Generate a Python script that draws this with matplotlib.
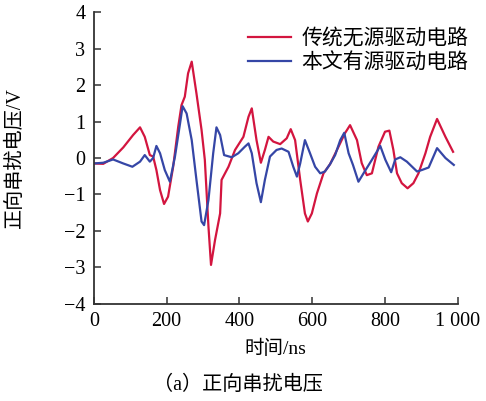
import matplotlib
matplotlib.use("Agg")
import matplotlib.pyplot as plt

plt.rcParams['font.family'] = ['Liberation Serif', 'Noto Sans CJK SC']
plt.rcParams['axes.unicode_minus'] = True

# 传统无源驱动电路 (red)
t_red = [0, 26, 53, 81, 108, 127, 140, 154, 163, 172, 182, 193, 204, 218, 232, 241, 250,
         259, 269, 282, 296, 305, 315, 322, 333, 347, 351, 370, 388, 411, 425, 434, 447,
         459, 470, 480, 493, 512, 530, 541, 553, 567, 580, 588, 599, 613, 631, 649, 668,
         690, 704, 723, 736, 750, 764, 782, 800, 812, 823, 833, 846, 862, 878, 892, 911,
         924, 943, 966, 987]
v_red = [-0.15, -0.16, 0.0, 0.29, 0.63, 0.84, 0.58, 0.08, 0.04, -0.33, -0.88, -1.26, -1.06,
         -0.24, 0.86, 1.45, 1.68, 2.32, 2.64, 1.77, 0.77, -0.05, -1.88, -2.93, -2.25, -1.52,
         -0.6, -0.24, 0.22, 0.58, 1.13, 1.36, 0.49, -0.13, 0.22, 0.58, 0.45, 0.38, 0.54,
         0.79, 0.49, -0.6, -1.52, -1.74, -1.52, -0.97, -0.42, -0.17, 0.22, 0.68, 0.9, 0.49,
         -0.14, -0.47, -0.42, 0.31, 0.72, 0.75, 0.22, -0.42, -0.69, -0.83, -0.69, -0.42,
         0.13, 0.58, 1.07, 0.58, 0.17]

# 本文有源驱动电路 (blue)
t_blue = [0, 26, 53, 81, 106, 127, 140, 154, 163, 172, 182, 195, 209, 223, 237, 244, 255,
          269, 282, 296, 303, 315, 328, 337, 347, 358, 379, 397, 415, 425, 434, 447, 459,
          470, 484, 502, 516, 535, 548, 558, 567, 580, 594, 608, 622, 635, 649, 663, 677,
          688, 700, 712, 727, 741, 764, 787, 801, 817, 828, 842, 860, 888, 901, 920, 943,
          966, 989]
v_blue = [-0.15, -0.13, -0.04, -0.15, -0.24, -0.1, 0.08, -0.1, 0.0, 0.33, 0.13, -0.33,
          -0.65, 0.04, 0.95, 1.42, 1.22, 0.49, -0.6, -1.74, -1.84, -1.15, 0.13, 0.84, 0.63,
          0.08, 0.02, 0.13, 0.31, 0.4, 0.13, -0.69, -1.21, -0.6, 0.04, 0.22, 0.26, 0.17,
          -0.24, -0.51, -0.15, 0.49, 0.13, -0.24, -0.42, -0.37, -0.17, 0.08, 0.49, 0.69,
          0.13, -0.19, -0.65, -0.42, -0.05, 0.33, -0.05, -0.39, -0.04, 0.02, -0.1, -0.37,
          -0.33, -0.26, 0.27, 0.0, -0.19]

x_ticks = [0, 200, 400, 600, 800, 1000]
x_ticklabels = ['0', '200', '400', '600', '800', '1 000']
y_ticks = [-4, -3, -2, -1, 0, 1, 2, 3, 4]

fig = plt.figure(figsize=(4.86, 4.01), dpi=100)
ax = fig.add_axes([0.193, 0.242, 0.749, 0.728])

ax.plot(t_red, v_red, color='#d3153f', lw=1.6, label='传统无源驱动电路')
ax.plot(t_blue, v_blue, color='#3546a6', lw=1.6, label='本文有源驱动电路')

ax.set_xlim(0, 1000)
ax.set_ylim(-4, 4)
ax.set_xticks(x_ticks)
ax.set_xticklabels(x_ticklabels)
ax.set_yticks(y_ticks)
ax.tick_params(direction='in', length=5, width=1.1, color='#333333',
               labelsize=14.5, pad=6)
for s in ['top', 'right']:
    ax.spines[s].set_visible(False)
for s in ['left', 'bottom']:
    ax.spines[s].set_linewidth(1.3)
    ax.spines[s].set_color('#333333')

ax.set_xlabel('时间/ns', fontsize=14, labelpad=6)
ax.set_ylabel('正向串扰电压/V', fontsize=14.5, labelpad=28)

leg = ax.legend(loc='upper right', bbox_to_anchor=(1.07, 0.99), frameon=False,
                fontsize=15, handlelength=2.1, handletextpad=0.5,
                labelspacing=0.2, borderaxespad=0.3)

fig.text(0.49, 0.04, '（a）正向串扰电压', ha='center', va='center', fontsize=14.5)

fig.savefig('out.png', dpi=100)
